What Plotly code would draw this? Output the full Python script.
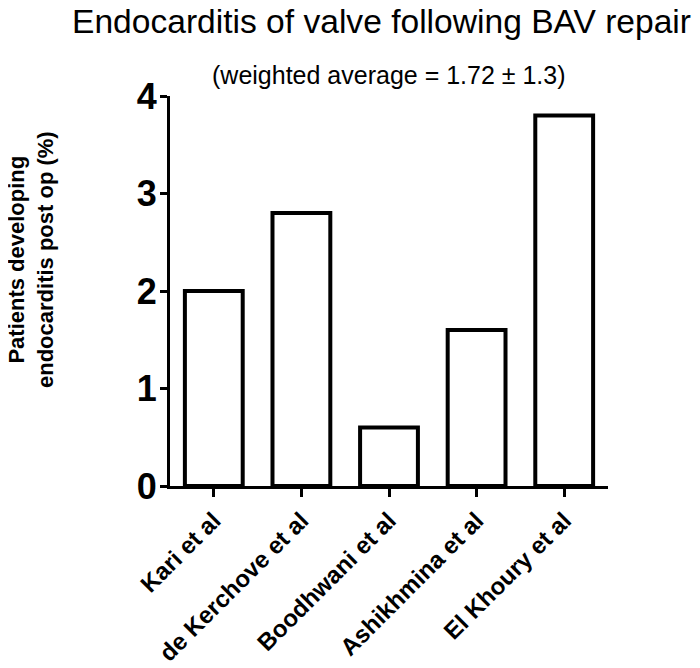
import plotly.graph_objects as go

categories = ["Kari et al", "de Kerchove et al", "Boodhwani et al", "Ashikhmina et al", "El Khoury et al"]
values = [2.0, 2.8, 0.6, 1.6, 3.8]
y_ticks = [0, 1, 2, 3, 4]

title_text = "Endocarditis of valve following BAV repair"
subtitle_text = "(weighted average = 1.72 \u00b1 1.3)"
ytitle_text = "<b>Patients developing<br>endocarditis post op (%)</b>"

FONT = "Liberation Sans, Arial, sans-serif"

OFF = 8  # page body margin
W, H = 700 - OFF, 668 - OFF
# plot area in page pixels
PX0, PX1, PY0, PY1 = 170, 608, 96, 486
L = PX0 - OFF
R = W - (PX1 - OFF)
T = PY0 - OFF
B = H - (PY1 - OFF)
pw = PX1 - PX0
ph = PY1 - PY0

def px2paper(x, y):
    return (x - PX0) / pw, (PY1 - y) / ph

fig = go.Figure()
fig.add_trace(go.Bar(
    x=categories, y=values, width=0.66,
    marker=dict(color="white", line=dict(color="black", width=4)),
))

tx, ty = px2paper(70, 21)
sx, sy = px2paper(210, 75)
yx, yy = px2paper(31, 260)

fig.update_layout(
    width=W, height=H,
    margin=dict(l=L, r=R, t=T, b=B, autoexpand=False),
    plot_bgcolor="white", paper_bgcolor="white",
    showlegend=False,
    font=dict(family=FONT, color="black"),
    xaxis=dict(
        range=[-0.5, 4.5], showline=True, linecolor="black", linewidth=3,
        ticks="outside", ticklen=8, tickwidth=3, tickcolor="black",
        tickangle=-45, tickfont=dict(family=FONT, size=24, color="black"),
        showgrid=False, zeroline=False, fixedrange=True, automargin=False,
        tickvals=categories, ticktext=["<b>%s</b>" % c for c in categories],
    ),
    yaxis=dict(
        range=[0, 4], tickvals=y_ticks, ticktext=["<b>%d</b>" % v for v in y_ticks],
        showline=True, linecolor="black", linewidth=3,
        ticks="outside", ticklen=7, tickwidth=3, tickcolor="black",
        tickfont=dict(family=FONT, size=36, color="black"),
        ticklabelstandoff=-4,
        showgrid=False, zeroline=False, automargin=False,
    ),
    annotations=[
        dict(text=title_text, x=tx, y=ty, xref="paper", yref="paper",
             xanchor="left", yanchor="middle", showarrow=False,
             font=dict(family=FONT, size=33.6, color="black")),
        dict(text=subtitle_text, x=sx, y=sy, xref="paper", yref="paper",
             xanchor="left", yanchor="middle", showarrow=False,
             font=dict(family=FONT, size=25, color="black")),
        dict(text=ytitle_text, x=yx, y=yy, xref="paper", yref="paper",
             xanchor="center", yanchor="middle", showarrow=False, textangle=-90,
             font=dict(family=FONT, size=22, color="black")),
    ],
)

fig.write_html("out.html")
